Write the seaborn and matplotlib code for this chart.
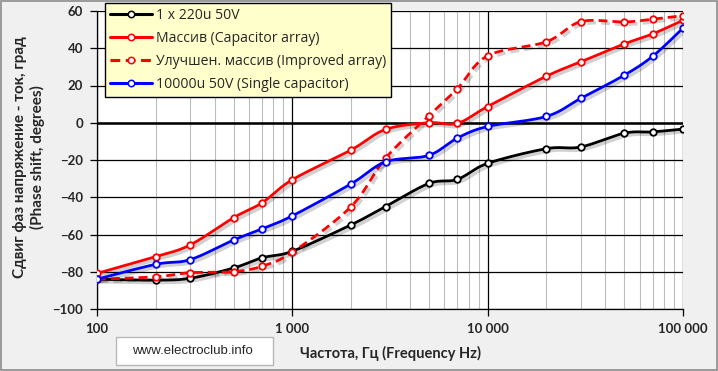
import numpy as np
import pandas as pd
import matplotlib
matplotlib.use("Agg")
import matplotlib.pyplot as plt
import matplotlib.patheffects as pe
from matplotlib.lines import Line2D
from matplotlib.ticker import FixedLocator, NullFormatter
import seaborn as sns

freq = [100, 200, 300, 500, 700, 1000, 2000, 3000, 5000, 7000,
        10000, 20000, 30000, 50000, 70000, 100000]
single_220u = [-84, -84.5, -83.5, -78, -72.5, -69, -54.8, -45, -32.6, -30.4,
               -21.8, -13.9, -13, -5.6, -4.9, -3.4]
cap_array = [-80.9, -71.9, -65.6, -51, -43, -30.6, -14.6, -3.6, 0, -0.3,
             8.7, 25, 32.7, 42.3, 47.7, 55]
improved_array = [-84, -82.7, -80.5, -80, -77, -69.5, -45, -19, 3.7, 18.3,
                  36, 43.5, 54.3, 54.1, 55.6, 57.5]
single_10000u = [-84, -76, -73.5, -63, -57, -50, -32.8, -21, -17.5, -8.2,
                 -2, 3.4, 13.1, 25.5, 35.7, 50.8]

labels = ["1 x 220u 50V", "Массив (Capacitor array)",
          "Улучшен. массив (Improved array)", "10000u 50V (Single capacitor)"]
series = [single_220u, cap_array, improved_array, single_10000u]
colors = ["#000000", "#ff0000", "#ff0000", "#0000ff"]
styles = ["-", "-", (0, (3.2, 1.8)), "-"]

x_ticks = [100, 1000, 10000, 100000]
x_ticklabels = ["100", "1 000", "10 000", "100 000"]
y_ticks = [-100, -80, -60, -40, -20, 0, 20, 40, 60]


def smooth_curve(xs, ys, n=24):
    """Excel-like smoothed line (Catmull-Rom Bezier) in log-x space."""
    P = np.column_stack([np.log10(xs), np.asarray(ys, float)])
    P = np.vstack([P[0], P, P[-1]])
    out = []
    t = np.linspace(0, 1, n)[:, None]
    for i in range(1, len(P) - 2):
        p0, p1, p2, p3 = P[i - 1], P[i], P[i + 1], P[i + 2]
        c1 = p1 + (p2 - p0) / 6.0
        c2 = p2 - (p3 - p1) / 6.0
        seg = ((1 - t) ** 3) * p1 + 3 * ((1 - t) ** 2) * t * c1 + 3 * (1 - t) * t ** 2 * c2 + t ** 3 * p2
        out.append(seg if i == 1 else seg[1:])
    out = np.vstack(out)
    return 10 ** out[:, 0], out[:, 1]


sns.set_theme(style="white")
plt.rcParams['font.family'] = ['Lato', 'DejaVu Sans']

fig = plt.figure(figsize=(7.18, 3.71), dpi=100, facecolor="#f0f0f0")
ax = fig.add_axes([97 / 718, 1 - 309 / 371, (683 - 97) / 718, (309 - 11) / 371])
ax.set_facecolor("white")
ax.set_xscale("log")
ax.set_xlim(100, 100000)
ax.set_ylim(-100, 60)

# grid
minor = [m * 10 ** d for d in range(2, 5) for m in range(2, 10)]
for v in minor:
    ax.axvline(v, color="#bdbdbd", lw=0.8, zorder=0.5)
for v in x_ticks:
    ax.axvline(v, color="black", lw=0.9, zorder=0.6)
for v in y_ticks:
    ax.axhline(v, color="black", lw=0.9, zorder=0.6)
ax.axhline(0, color="black", lw=1.8, zorder=0.7)

shadow = [pe.SimpleLineShadow(offset=(1.8, -1.8), shadow_color="black", alpha=0.18, linewidth=2.4),
          pe.Normal()]

handles = []
for lab, ys, col, ls in zip(labels, series, colors, styles):
    sx, sy = smooth_curve(freq, ys)
    ax.plot(sx, sy, color=col, lw=2.0, ls=ls, zorder=3, path_effects=shadow,
            solid_capstyle="round", dash_capstyle="butt")
    df = pd.DataFrame({"f": freq, "v": ys})
    sns.scatterplot(data=df, x="f", y="v", ax=ax, marker="o", s=22,
                    facecolor="white", edgecolor=col, linewidth=1.3, zorder=4)
    handles.append(Line2D([0], [0], color=col, lw=2.2, ls=ls, marker="o", markersize=4.6,
                          markerfacecolor="white", markeredgecolor=col, markeredgewidth=1.1))

ax.set_xlabel("")
ax.set_ylabel("")
ax.xaxis.set_major_locator(FixedLocator(x_ticks))
ax.xaxis.set_minor_locator(FixedLocator([]))
ax.xaxis.set_minor_formatter(NullFormatter())
ax.set_xticks(x_ticks)
ax.set_xticklabels(x_ticklabels)
ax.set_yticks(y_ticks)
ax.tick_params(axis="both", which="major", direction="out", length=5, width=0.9,
               color="black", labelsize=9.5, pad=5, left=True, bottom=True)
for t in ax.get_xticklabels() + ax.get_yticklabels():
    t.set_fontweight("bold")
for s in ["top", "right"]:
    ax.spines[s].set_visible(False)
for s in ["left", "bottom"]:
    ax.spines[s].set_color("black")
    ax.spines[s].set_linewidth(0.9)

leg = fig.legend(handles, labels, loc="upper left", bbox_to_anchor=(105 / 718, 1 - 3 / 371),
                 frameon=True, fancybox=False, facecolor="#ffffcc", edgecolor="black",
                 framealpha=1, prop={"family": ["Open Sans", "DejaVu Sans"], "size": 10.1},
                 handlelength=3.0, handletextpad=0.3,
                 labelspacing=0.58, borderpad=0.35, borderaxespad=0)
leg.get_frame().set_linewidth(1.0)
leg.set_zorder(10)

fig.text(390 / 718, 1 - 353 / 371, "Частота, Гц (Frequency Hz)", ha="center", va="center",
         fontsize=10.5, fontweight="bold")
fig.text(29 / 718, 1 - 157 / 371, "Сдвиг фаз напряжение - ток, град\n(Phase shift, degrees)",
         ha="center", va="center", rotation=90, fontsize=11, fontweight="bold",
         linespacing=1.2)

# website box
fig.patches.append(plt.Rectangle((116 / 718, 1 - 365 / 371), (273 - 116) / 718, 28 / 371,
                                 transform=fig.transFigure, facecolor="white",
                                 edgecolor="#b8b8b8", lw=1.0))
fig.text(192 / 718, 1 - 351 / 371, "www.electroclub.info", ha="center", va="center",
         fontsize=9.5, family=["Liberation Sans", "DejaVu Sans"])

# figure border
fig.patches.append(plt.Rectangle((0.001, 0.002), 0.997, 0.996, transform=fig.transFigure,
                                 fill=False, edgecolor="#8c8c8c", lw=1.2))

fig.savefig("out.png", dpi=100, facecolor=fig.get_facecolor())
